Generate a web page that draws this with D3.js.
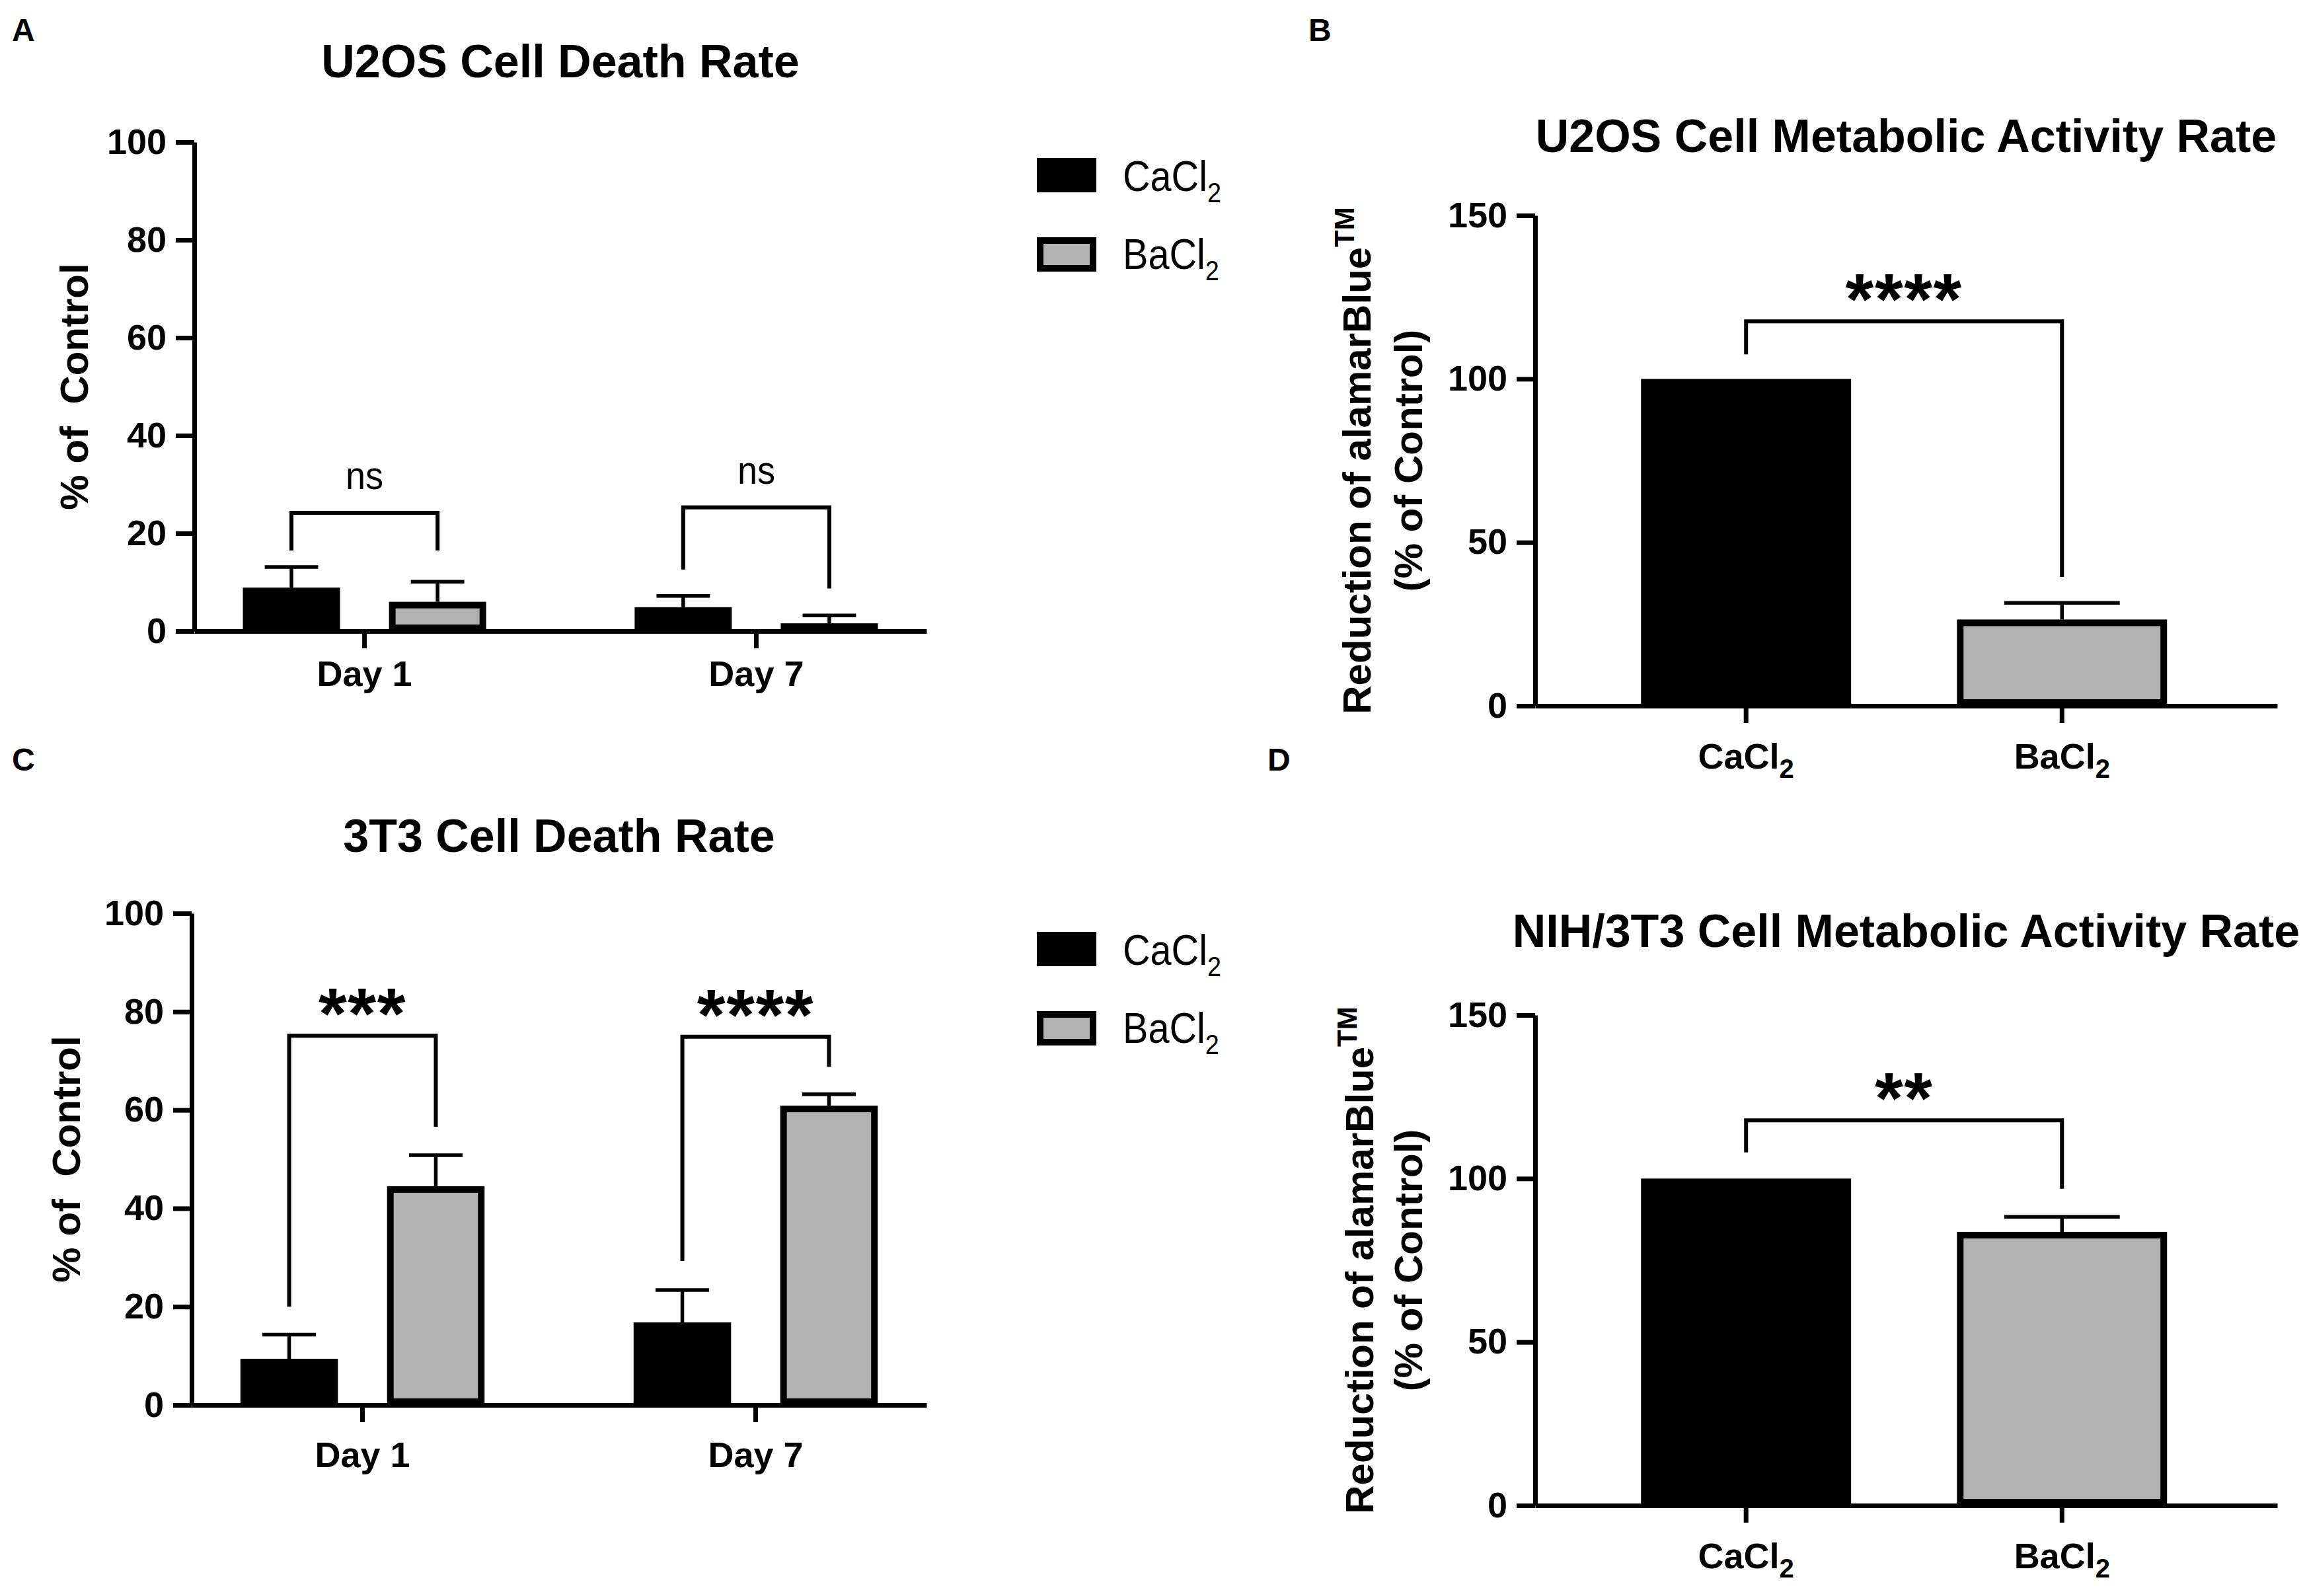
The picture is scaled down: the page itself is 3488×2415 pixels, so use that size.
<!DOCTYPE html>
<html>
<head>
<meta charset="utf-8">
<script src="https://cdn.jsdelivr.net/npm/d3@7"></script>
<style>
  body { margin: 0; background: #fff; }
  text { font-family: "Liberation Sans", Arial, sans-serif; fill: #000; }
</style>
</head>
<body>
<svg id="fig"></svg>
<script>
// ---- data ----
const days = ['Day 1', 'Day 7'];
const salts = ['CaCl2', 'BaCl2'];
const saltParts = { CaCl2: ['CaCl', '2'], BaCl2: ['BaCl', '2'] };
const deathTicks = [0, 20, 40, 60, 80, 100];
const metabTicks = [0, 50, 100, 150];

// A: U2OS cell death (% of control), mean and SD per day
const u2osDeathCa = [8.9, 4.9];
const u2osDeathCaSd = [4.2, 2.3];
const u2osDeathBa = [6.0, 1.6];
const u2osDeathBaSd = [4.1, 1.6];
const u2osDeathSig = ['ns', 'ns'];
const u2osDeathBrackets = [[24.2, 16.5, 16.5], [25.3, 12.6, 8.7]]; // [top, left leg end, right leg end]

// C: 3T3 cell death
const t3DeathCa = [9.4, 16.8];
const t3DeathCaSd = [4.9, 6.6];
const t3DeathBa = [44.5, 60.9];
const t3DeathBaSd = [6.3, 2.3];
const t3DeathSig = ['***', '****'];
const t3DeathBrackets = [[75.1, 20.0, 56.6], [74.9, 29.3, 68.8]];

// B: U2OS metabolic activity
const u2osMetab = [100, 26.4];
const u2osMetabSd = [0, 5.1];
const u2osMetabSig = ['****'];
const u2osMetabBrackets = [[117.6, 107.5, 39.4]];

// D: NIH/3T3 metabolic activity
const nihMetab = [100, 83.7];
const nihMetabSd = [0, 4.6];
const nihMetabSig = ['**'];
const nihMetabBrackets = [[117.8, 108.0, 96.9]];

// ---- drawing ----
const GRAY = '#b1b1b1';
const BORDER = 10;
const svg = d3.select('#fig').attr('width', 3488).attr('height', 2415);

function regularText(g, x, y, size) {
  return g.append('text')
    .attr('transform', `translate(${x},${y}) scale(0.9,1)`)
    .attr('font-size', size);
}

function drawAxes(x, y, ticks, xPad) {
  const ya = svg.append('g').attr('transform', `translate(${x.range()[0]},0)`)
    .call(d3.axisLeft(y).tickValues(ticks).tickSize(28).tickPadding(14).tickSizeOuter(0));
  const xa = svg.append('g').attr('transform', `translate(0,${y(0)})`)
    .call(d3.axisBottom(x).tickSize(26).tickPadding(xPad).tickSizeOuter(0));
  [ya, xa].forEach(a => {
    a.select('.domain').attr('stroke-width', 7);
    a.selectAll('.tick line').attr('stroke-width', 7);
    a.selectAll('.tick text').attr('font-size', 54).attr('font-weight', 'bold');
  });
  return xa;
}

function drawBar(x, w, y, v, sd, salt) {
  const top = y(v), base = y(0);
  svg.append('rect')
    .attr('x', x + BORDER / 2).attr('y', top + BORDER / 2)
    .attr('width', w - BORDER)
    .attr('height', Math.max(0, base - top - BORDER))
    .attr('fill', salt === 'CaCl2' ? '#000' : GRAY)
    .attr('stroke', '#000').attr('stroke-width', BORDER);
  if (sd > 0) {
    const cx = x + w / 2, cap = w * 0.55;
    svg.append('line').attr('x1', cx).attr('x2', cx)
      .attr('y1', top).attr('y2', y(v + sd))
      .attr('stroke', '#000').attr('stroke-width', 5.5);
    svg.append('line').attr('x1', cx - cap / 2).attr('x2', cx + cap / 2)
      .attr('y1', y(v + sd)).attr('y2', y(v + sd))
      .attr('stroke', '#000').attr('stroke-width', 5.5);
  }
}

function drawBracket(xl, xr, y, b, label) {
  svg.append('path')
    .attr('d', `M${xl},${y(b[1])}V${y(b[0])}H${xr}V${y(b[2])}`)
    .attr('fill', 'none').attr('stroke', '#000').attr('stroke-width', 6);
  const cx = (xl + xr) / 2;
  if (label === 'ns') {
    regularText(svg, cx, y(b[0]) - 36, 60).attr('text-anchor', 'middle').text(label);
  } else {
    svg.append('text').attr('x', cx).attr('y', y(b[0]) + 4)
      .attr('text-anchor', 'middle').attr('font-weight', 'bold')
      .attr('font-size', 110).attr('letter-spacing', 1.5).text(label);
  }
}

function saltLabel(sel, size, subSize, subDy) {
  sel.each(function (d) {
    const t = d3.select(this).text(null);
    t.append('tspan').text(saltParts[d][0]);
    t.append('tspan').attr('font-size', subSize).attr('dy', subDy).text(saltParts[d][1]);
  });
}

function drawLegend(x, y) {
  salts.forEach((s, i) => {
    const by = y + i * 120;
    svg.append('rect')
      .attr('x', x + BORDER / 2).attr('y', by + BORDER / 2)
      .attr('width', 90 - BORDER).attr('height', 52 - BORDER)
      .attr('fill', s === 'CaCl2' ? '#000' : GRAY)
      .attr('stroke', '#000').attr('stroke-width', BORDER);
    const t = regularText(svg, x + 130, by + 50 - i * 2, 64).datum(s);
    saltLabel(t, 64, 42, 17);
  });
}

function title(text, cx, y) {
  svg.append('text').attr('x', cx).attr('y', y).attr('text-anchor', 'middle')
    .attr('font-weight', 'bold').attr('font-size', 70).text(text);
}

function panelLetter(text, x, y) {
  svg.append('text').attr('x', x).attr('y', y)
    .attr('font-weight', 'bold').attr('font-size', 48).text(text);
}

function groupedPanel(p) {
  const x0 = d3.scaleBand().domain(days).range([p.left, p.right])
    .paddingInner(0.379).paddingOuter(0.124);
  const x1 = d3.scaleBand().domain(salts).range([0, x0.bandwidth()]).paddingInner(0.335);
  const y = d3.scaleLinear().domain([0, 100]).range([p.bottom, p.top]);
  const series = { CaCl2: [p.ca, p.caSd], BaCl2: [p.ba, p.baSd] };

  days.forEach((d, i) => {
    salts.forEach(s => {
      drawBar(x0(d) + x1(s), x1.bandwidth(), y, series[s][0][i], series[s][1][i], s);
    });
    const xl = x0(d) + x1('CaCl2') + x1.bandwidth() / 2;
    const xr = x0(d) + x1('BaCl2') + x1.bandwidth() / 2;
    drawBracket(xl, xr, y, p.brackets[i], p.sig[i]);
  });
  drawAxes(x0, y, deathTicks, p.xPad);

  svg.append('text')
    .attr('transform', `translate(${p.ylabX},${(p.top + p.bottom) / 2}) rotate(-90)`)
    .attr('text-anchor', 'middle').attr('font-weight', 'bold').attr('font-size', 60)
    .style('white-space', 'pre').text('% of  Control');
  title(p.title, (p.left + p.right) / 2, p.titleY);
  drawLegend(1569, p.legendY);
}

function singlePanel(p) {
  const x = d3.scaleBand().domain(salts).range([p.left, p.right])
    .paddingInner(0.335).paddingOuter(0.342).align(0.49);
  const y = d3.scaleLinear().domain([0, 150]).range([p.bottom, p.top]);

  salts.forEach((s, i) => drawBar(x(s), x.bandwidth(), y, p.vals[i], p.sd[i], s));
  drawBracket(x('CaCl2') + x.bandwidth() / 2, x('BaCl2') + x.bandwidth() / 2, y, p.brackets[0], p.sig[0]);
  const xa = drawAxes(x, y, metabTicks, 31);
  saltLabel(xa.selectAll('.tick text'), 54, 40, 14);

  const cy = (p.top + p.bottom) / 2;
  const l1 = svg.append('text')
    .attr('transform', `translate(${p.ylab1},${cy}) rotate(-90)`)
    .attr('text-anchor', 'middle').attr('font-weight', 'bold').attr('font-size', 60);
  l1.append('tspan').text('Reduction of alamarBlue');
  l1.append('tspan').attr('font-size', 42).attr('dy', -25).text('TM');
  svg.append('text')
    .attr('transform', `translate(${p.ylab2},${cy}) rotate(-90)`)
    .attr('text-anchor', 'middle').attr('font-weight', 'bold').attr('font-size', 60)
    .text('(% of Control)');
  title(p.title, (p.left + p.right) / 2, p.titleY);
}

groupedPanel({
  left: 294, right: 1402, top: 215, bottom: 955, xPad: 19,
  ca: u2osDeathCa, caSd: u2osDeathCaSd, ba: u2osDeathBa, baSd: u2osDeathBaSd,
  brackets: u2osDeathBrackets, sig: u2osDeathSig,
  title: 'U2OS Cell Death Rate', titleY: 117, ylabX: 133, legendY: 239
});
groupedPanel({
  left: 290, right: 1402, top: 1382, bottom: 2126, xPad: 30,
  ca: t3DeathCa, caSd: t3DeathCaSd, ba: t3DeathBa, baSd: t3DeathBaSd,
  brackets: t3DeathBrackets, sig: t3DeathSig,
  title: '3T3 Cell Death Rate', titleY: 1289, ylabX: 121, legendY: 1410
});
singlePanel({
  left: 2323, right: 3446, top: 326, bottom: 1068,
  vals: u2osMetab, sd: u2osMetabSd, brackets: u2osMetabBrackets, sig: u2osMetabSig,
  title: 'U2OS Cell Metabolic Activity Rate', titleY: 230, ylab1: 2074, ylab2: 2152
});
singlePanel({
  left: 2323, right: 3446, top: 1536, bottom: 2278,
  vals: nihMetab, sd: nihMetabSd, brackets: nihMetabBrackets, sig: nihMetabSig,
  title: 'NIH/3T3 Cell Metabolic Activity Rate', titleY: 1433, ylab1: 2078, ylab2: 2152
});

panelLetter('A', 18, 62);
panelLetter('B', 1980, 62);
panelLetter('C', 18, 1166);
panelLetter('D', 1918, 1166);
</script>
</body>
</html>
